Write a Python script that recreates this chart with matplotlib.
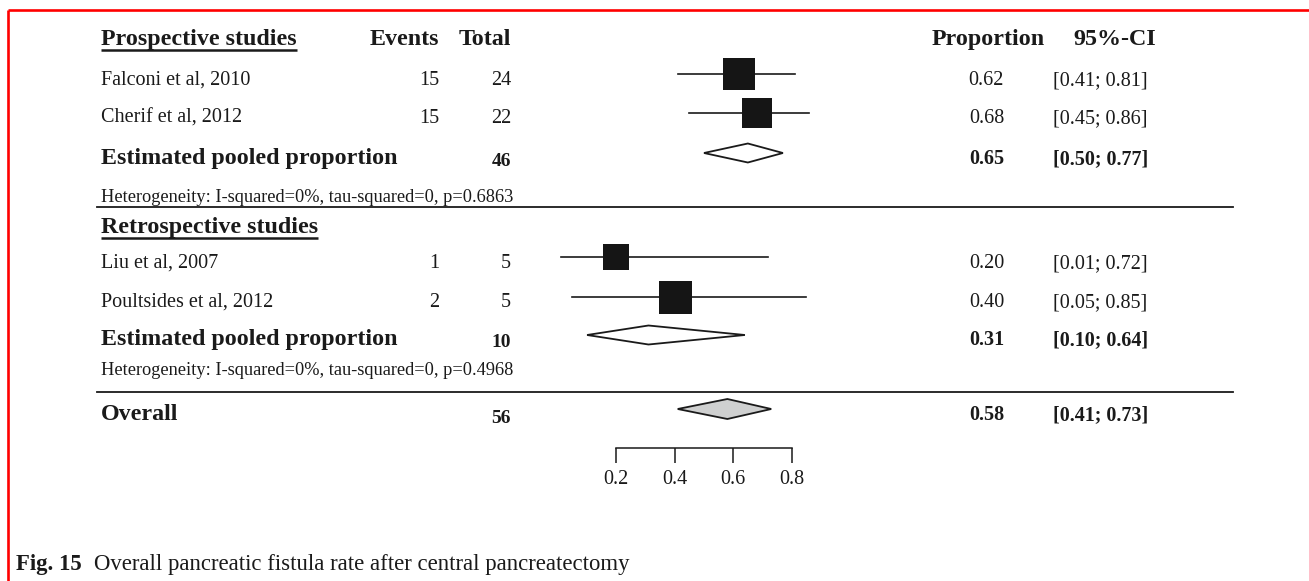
import matplotlib
matplotlib.use("Agg")
import matplotlib.pyplot as plt

# ---- data ----
study_names = ["Falconi et al, 2010", "Cherif et al, 2012",
               "Liu et al, 2007", "Poultsides et al, 2012"]
study_events = [15, 15, 1, 2]
study_totals = [24, 22, 5, 5]
study_prop = [0.62, 0.68, 0.20, 0.40]
study_lo = [0.41, 0.45, 0.01, 0.05]
study_hi = [0.81, 0.86, 0.72, 0.85]

group_titles = ["Prospective studies", "Retrospective studies"]
pooled_totals = [46, 10]
pooled_prop = [0.65, 0.31]
pooled_lo = [0.50, 0.10]
pooled_hi = [0.77, 0.64]
het_i2 = ["0%", "0%"]
het_tau2 = ["0", "0"]
het_p = ["0.6863", "0.4968"]

overall_total = 56
overall_prop = 0.58
overall_lo = 0.41
overall_hi = 0.73

scale_ticks = [0.2, 0.4, 0.6, 0.8]
caption_bold = "Fig. 15"
caption_text = "Overall pancreatic fistula rate after central pancreatectomy"

# ---- layout (page pixels, y measured from the top; text rows are baselines) ----
W, H = 1309, 581
study_rows = [74, 113, 257, 297]
study_base = [85, 123, 268, 307]
square_px = [32, 30, 26, 33]
pooled_rows = [153, 335]
pooled_base = [164, 345]
group_base = [45, 233]
het_base = [202, 375]
rule_rows = [207, 392]
overall_row = 409
overall_base = 420
scale_row = 448
caption_base = 570

x_left = 101
x_events = 439
x_total = 511
x_prop = 1004
x_ci = 1053
x_rule0, x_rule1 = 97, 1233

# proportion scale: 0.2 -> 616.3 px, 0.8 -> 791.7 px
px_per_unit = (791.7 - 616.3) / 0.6
px_zero = 616.3 - 0.2 * px_per_unit

FONT = "Liberation Serif"
INK = "#1a1a1a"
plt.rcParams["font.family"] = [FONT, "DejaVu Serif"]

BIG = 17.3
BODY = 14.5
NUM_B = 14
HET = 13.2

fig = plt.figure(figsize=(W / 100, H / 100), dpi=100)
fig.patch.set_facecolor("white")

page = fig.add_axes([0, 0, 1, 1])
page.set_xlim(0, W)
page.set_ylim(H, 0)
page.axis("off")

fp = fig.add_axes([0, 0, 1, 1])
fp.set_xlim((0 - px_zero) / px_per_unit, (W - px_zero) / px_per_unit)
fp.set_ylim(H, 0)
fp.patch.set_alpha(0)
for side in ("top", "left", "right"):
    fp.spines[side].set_visible(False)
fp.spines["bottom"].set_position(("data", scale_row))
fp.spines["bottom"].set_bounds(scale_ticks[0], scale_ticks[-1])
fp.spines["bottom"].set_linewidth(1.1)
fp.spines["bottom"].set_color(INK)
fp.set_yticks([])
fp.set_xticks(scale_ticks)
fp.set_xticklabels([f"{t:.1f}" for t in scale_ticks])
fp.tick_params(axis="x", direction="out", length=11, width=1.1, color=INK,
               pad=5, labelsize=BODY, labelcolor=INK)

# frame around the figure
page.plot([8, W], [10, 10], color="#ff0000", lw=1.9, solid_capstyle="butt")
page.plot([8, 8], [10, H], color="#ff0000", lw=1.9, solid_capstyle="butt")

fig.canvas.draw()
renderer = fig.canvas.get_renderer()


def txt(x, y, s, size=BODY, bold=False, ha="left"):
    return page.text(x, y, s, fontsize=size, color=INK, va="baseline", ha=ha,
                     fontweight="bold" if bold else "normal")


def underline(t, y):
    bb = t.get_window_extent(renderer=renderer)
    page.plot([bb.x0, bb.x1], [y, y], color=INK, lw=1.8, solid_capstyle="butt")


# column headers
h = txt(x_left, group_base[0], group_titles[0], BIG, True)
underline(h, group_base[0] + 5)
txt(x_events, group_base[0], "Events", BIG, True, "right")
txt(x_total, group_base[0], "Total", BIG, True, "right")
txt(932, group_base[0], "Proportion", BIG, True)
txt(1156, group_base[0], "95%-CI", BIG, True, "right")

# second group title
h2 = txt(x_left, group_base[1], group_titles[1], BIG, True)
underline(h2, group_base[1] + 5)

# individual studies
for i, name in enumerate(study_names):
    ty = study_base[i]
    txt(x_left, ty, name)
    txt(x_events, ty, str(study_events[i]), ha="right")
    txt(x_total, ty, str(study_totals[i]), ha="right")
    txt(x_prop, ty, f"{study_prop[i]:.2f}", ha="right")
    txt(x_ci, ty, f"[{study_lo[i]:.2f}; {study_hi[i]:.2f}]")
    my = study_rows[i]
    fp.plot([study_lo[i], study_hi[i]], [my, my], color=INK, lw=1.2)
    fp.plot([study_prop[i]], [my], marker="s", ms=square_px[i] * 0.72,
            mew=0, color="#151515")

# pooled estimates per group
for g in range(2):
    ty = pooled_base[g]
    txt(x_left, ty, "Estimated pooled proportion", BIG, True)
    txt(x_total, ty + 2, str(pooled_totals[g]), NUM_B, True, "right")
    txt(x_prop, ty, f"{pooled_prop[g]:.2f}", BODY, True, "right")
    txt(x_ci, ty, f"[{pooled_lo[g]:.2f}; {pooled_hi[g]:.2f}]", BODY, True)
    dy = pooled_rows[g]
    fp.fill([pooled_lo[g], pooled_prop[g], pooled_hi[g], pooled_prop[g]],
            [dy, dy - 9.5, dy, dy + 9.5], facecolor="white",
            edgecolor=INK, lw=1.3)
    txt(x_left, het_base[g],
        f"Heterogeneity: I-squared={het_i2[g]}, tau-squared={het_tau2[g]}, p={het_p[g]}",
        HET)
    page.plot([x_rule0, x_rule1], [rule_rows[g], rule_rows[g]], color=INK,
              lw=1.3)

# overall estimate
txt(x_left, overall_base, "Overall", BIG, True)
txt(x_total, overall_base + 3, str(overall_total), NUM_B, True, "right")
txt(x_prop, overall_base, f"{overall_prop:.2f}", BODY, True, "right")
txt(x_ci, overall_base, f"[{overall_lo:.2f}; {overall_hi:.2f}]", BODY, True)
fp.fill([overall_lo, overall_prop, overall_hi, overall_prop],
        [overall_row, overall_row - 10, overall_row, overall_row + 10],
        facecolor="#cfd0d0", edgecolor=INK, lw=1.3)

# caption
cb = txt(16, caption_base, caption_bold, 16.4, True)
bb = cb.get_window_extent(renderer=renderer)
txt(bb.x1 + 12, caption_base, caption_text, 16.4)

fig.savefig("out.png", dpi=100, facecolor="white")
